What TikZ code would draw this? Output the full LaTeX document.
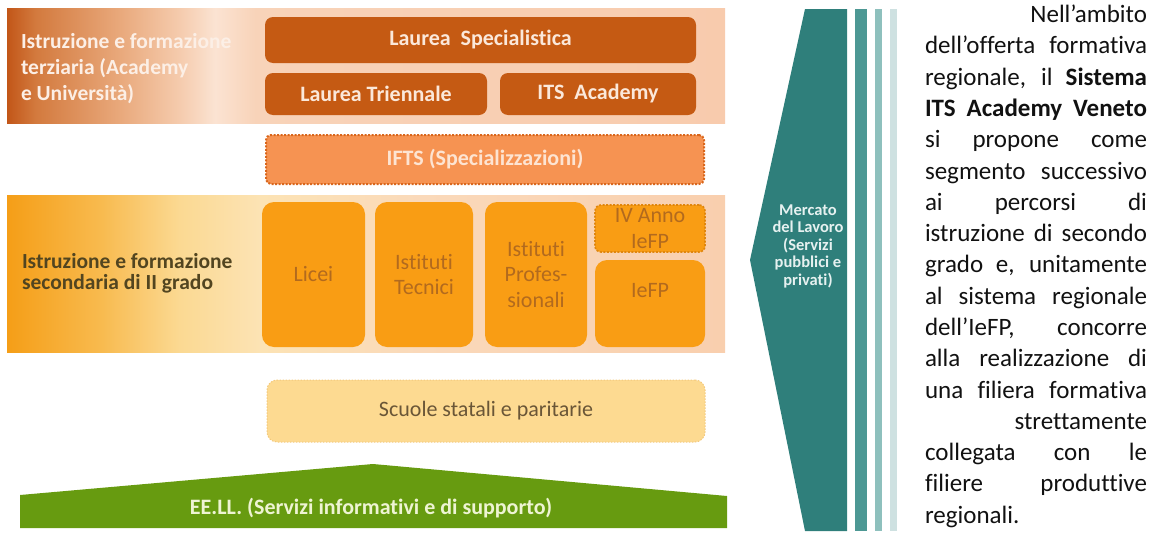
\documentclass[tikz,border=0pt]{standalone}
\usepackage{fontspec}
\setmainfont{Carlito}[Ligatures={TeX,NoCommon}]
\definecolor{terA}{HTML}{C25618}
\definecolor{terB}{HTML}{D37A3E}
\definecolor{terC}{HTML}{E9A97C}
\definecolor{terD}{HTML}{F5CBAD}
\definecolor{terE}{HTML}{FBE3D2}
\definecolor{terF}{HTML}{F8D3B9}
\definecolor{terG}{HTML}{F8CBAD}
\definecolor{secA}{HTML}{F59E17}
\definecolor{secB}{HTML}{F8BA4E}
\definecolor{secC}{HTML}{FBD992}
\definecolor{secD}{HTML}{FCE3B4}
\definecolor{secE}{HTML}{FAD9BA}
\definecolor{secF}{HTML}{F9CFAE}
\definecolor{laurea}{HTML}{C55A13}
\definecolor{laurtext}{HTML}{FBE8DA}
\definecolor{ifts}{HTML}{F69352}
\definecolor{iftsborder}{HTML}{D9661C}
\definecolor{iftstext}{HTML}{FDE4D2}
\definecolor{obox}{HTML}{F99D14}
\definecolor{otext}{HTML}{B26A1E}
\definecolor{ivborder}{HTML}{E0860C}
\definecolor{scuolefill}{HTML}{FDDA91}
\definecolor{scuoleborder}{HTML}{F3C97C}
\definecolor{scuoletext}{HTML}{6A5637}
\definecolor{eegreen}{HTML}{679B10}
\definecolor{greentext}{HTML}{EEF4D3}
\definecolor{teal}{HTML}{2F7F7B}
\definecolor{tealtext}{HTML}{E6F1F0}
\definecolor{stripeA}{HTML}{4D9894}
\definecolor{stripeB}{HTML}{8EC0BD}
\definecolor{stripeC}{HTML}{CEE1E1}
\definecolor{terlabel}{HTML}{FCEFE6}
\definecolor{seclabel}{HTML}{524520}
\definecolor{paratext}{HTML}{111111}
\pgfdeclarehorizontalshading{tershade}{100bp}{color(0bp)=(terA); color(25bp)=(terA); color(27bp)=(terB); color(32.9bp)=(terC); color(37bp)=(terD); color(39.5bp)=(terE); color(42.3bp)=(terF); color(75bp)=(terG); color(100bp)=(terG)}
\pgfdeclarehorizontalshading{secshade}{100bp}{color(0bp)=(secA); color(25bp)=(secA); color(31.5bp)=(secB); color(37bp)=(secC); color(42.6bp)=(secD); color(53.8bp)=(secE); color(75bp)=(secF); color(100bp)=(secF)}
\begin{document}
\begin{tikzpicture}[x=1pt,y=-1pt,
  every node/.style={inner sep=0pt, outer sep=0pt},
  bandbox/.style={shade, draw=none, anchor=north west, minimum width=718pt},
  boldlbl/.style={font=\fontsize{21.5}{26}\selectfont\bfseries, align=left, anchor=west},
  laureabox/.style={fill=laurea, rounded corners=8pt, text=laurtext, font=\fontsize{22}{25}\selectfont\bfseries, anchor=north west},
  iftsbox/.style={fill=ifts, draw=iftsborder, line width=2pt, dash pattern=on 2pt off 1.5pt, rounded corners=5pt, text=iftstext, font=\fontsize{22}{25}\selectfont\bfseries, anchor=north west},
  obx/.style={fill=obox, rounded corners=12pt, text=otext, font=\fontsize{22}{25.5}\selectfont, align=center, anchor=north west},
  ivbx/.style={obx, draw=ivborder, line width=1.6pt, dash pattern=on 2pt off 1.5pt, rounded corners=6pt},
  scuolebox/.style={fill=scuolefill, draw=scuoleborder, line width=1pt, dash pattern=on 1.5pt off 1.5pt, rounded corners=10pt, text=scuoletext, font=\fontsize{22}{25}\selectfont, anchor=north west}
]
\useasboundingbox (0,0) rectangle (1152,533);
% tertiary band
\node[bandbox, shading=tershade, minimum height=115pt] (terband) at (7,8) {};
\node[boldlbl, text=terlabel] (terlbl) at (21,69) {Istruzione e formazione\\terziaria (Academy\\e Università)};
\node[laureabox, minimum width=431pt, minimum height=46pt] (lspec) at (265,17) {Laurea\ \ Specialistica};
\node[laureabox, minimum width=222pt, minimum height=42pt] (ltri) at (265,73) {Laurea Triennale};
\node[laureabox, minimum width=196pt, minimum height=42pt] (its) at (500,73) {ITS\ \ Academy};
% IFTS
\node[iftsbox, minimum width=438pt, minimum height=49pt] (ifts) at (266,135) {IFTS (Specializzazioni)};
% secondary band
\node[bandbox, shading=secshade, minimum height=157pt] (secband) at (7,195) {};
\node[boldlbl, text=seclabel, font=\fontsize{21.5}{21}\selectfont\bfseries] (seclbl) at (22,273) {Istruzione e formazione\\secondaria di II grado};
\node[obx, minimum width=103pt, minimum height=145pt] (licei) at (262,202) {Licei};
\node[obx, minimum width=98pt, minimum height=145pt] (tecn) at (375,202) {Istituti\\Tecnici};
\node[obx, minimum width=102pt, minimum height=145pt] (prof) at (485,202) {Istituti\\Profes-\\sionali};
\node[ivbx, minimum width=110pt, minimum height=47pt] (ivanno) at (595,205) {IV Anno\\IeFP};
\node[obx, minimum width=110pt, minimum height=87pt, text depth=27pt] (iefp) at (595,260) {IeFP};
% scuole
\node[scuolebox, minimum width=438pt, minimum height=62pt] (scuole) at (267,380) {Scuole statali e paritarie};
% EE.LL.
\fill[eegreen] (20,528) -- (20,495) -- (373,464) -- (727,496) -- (727,528) -- cycle;
\node[text=greentext, font=\fontsize{22}{25}\selectfont\bfseries] (eell) at (371,508) {EE.LL. (Servizi informativi e di supporto)};
% Mercato del lavoro
\fill[teal] (805,9) -- (847,9) -- (847,531) -- (805,531) -- (750,260) -- cycle;
\fill[stripeA] (855,9) rectangle (867,531);
\fill[stripeB] (875,9) rectangle (882,531);
\fill[stripeC] (890,9) rectangle (897,531);
\node[text=tealtext, font=\fontsize{16.5}{17.5}\selectfont\bfseries, align=center] (merc) at (808,246) {Mercato\\del Lavoro\\(Servizi\\pubblici e\\privati)};
% paragraph
\node[anchor=base west, text=paratext] (para) at (925,22.5) {\parbox[t]{222pt}{\fontsize{25}{31.3}\selectfont
\makebox[222pt][r]{Nell’ambito}\par
\makebox[222pt][s]{dell’offerta formativa}\par
\makebox[222pt][s]{regionale, il \textbf{Sistema}}\par
\makebox[222pt][s]{\textbf{ITS Academy Veneto}}\par
\makebox[222pt][s]{si propone come}\par
\makebox[222pt][s]{segmento successivo}\par
\makebox[222pt][s]{ai percorsi di}\par
\makebox[222pt][s]{istruzione di secondo}\par
\makebox[222pt][s]{grado e, unitamente}\par
\makebox[222pt][s]{al sistema regionale}\par
\makebox[222pt][s]{dell’IeFP, concorre}\par
\makebox[222pt][s]{alla realizzazione di}\par
\makebox[222pt][s]{una filiera formativa}\par
\makebox[222pt][r]{strettamente}\par
\makebox[222pt][s]{collegata con le}\par
\makebox[222pt][s]{filiere produttive}\par
\makebox[222pt][l]{regionali.}}};
\end{tikzpicture}
\end{document}
